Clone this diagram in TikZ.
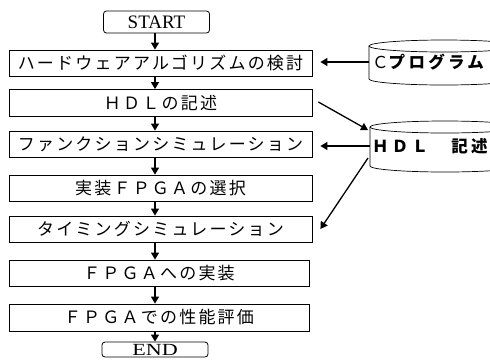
\documentclass[tikz,border=0pt]{standalone}
\usepackage{fontspec}
\setmainfont{Liberation Serif}
\newfontfamily\jp[LetterSpace=13]{Noto Sans CJK JP}
\newfontfamily\jpc[LetterSpace=20]{Noto Sans CJK JP}
\usetikzlibrary{arrows.meta,calc}
\begin{document}
\begin{tikzpicture}[x=1pt,y=-1pt,
  box/.style={draw, line width=0.8pt, minimum width=303pt, minimum height=26pt, inner sep=0pt,
    font=\jp\fontsize{17}{17}\selectfont},
  term/.style={draw, rounded corners=3pt, line width=0.8pt, inner sep=0pt, minimum width=106pt},
  arr/.style={line width=1.3pt, -{Triangle[length=7pt,width=8pt]}},
  cyl/.style={line width=0.7pt},
  cyltext/.style={anchor=west, inner sep=0pt, font=\jpc\bfseries\fontsize{16.5}{16.5}\selectfont}]
\useasboundingbox (0,0) rectangle (490,360);
\clip (0,0) rectangle (490,360);
% terminals and process boxes
\node[term, minimum height=22pt] (start) at (156.5,22) {\fontsize{19}{19}\selectfont START};
\node[box] (b1) at (160.5,63) {ハードウェアアルゴリズムの検討};
\node[box, minimum height=27pt] (b2) at (160.5,103) {ＨＤＬの記述};
\node[box] (b3) at (160.5,144) {ファンクションシミュレーション};
\node[box] (b4) at (160.5,188) {実装ＦＰＧＡの選択};
\node[box] (b5) at (160.5,229) {タイミングシミュレーション};
\node[box, minimum width=300pt] (b6) at (159,273) {ＦＰＧＡへの実装};
\node[box, minimum width=300pt, minimum height=27pt] (b7) at (159,317.5) {ＦＰＧＡでの性能評価};
\node[term, minimum height=15pt] (end) at (155,349.5) {\fontsize{17}{17}\selectfont\scalebox{1.3}[1]{END}};
% column of the vertical arrows
\coordinate (ax) at (155,0);
\draw[arr] (start.south -| ax) -- (b1.north -| ax);
\draw[arr] (b1.south -| ax) -- (b2.north -| ax);
\draw[arr] (b2.south -| ax) -- (b3.north -| ax);
\draw[arr] (b3.south -| ax) -- (b4.north -| ax);
\draw[arr] (b4.south -| ax) -- (b5.north -| ax);
\draw[arr] (b5.south -| ax) -- (b6.north -| ax);
\draw[arr] (b6.south -| ax) -- (b7.north -| ax);
\draw[arr] (b7.south -| ax) -- (end.north -| ax);
% cylinder 1: C program
\draw[cyl] (444,46) ellipse [x radius=75, y radius=6];
\draw[cyl] (369,46) -- (369,79) arc[start angle=180, end angle=0, x radius=75, y radius=6] -- (519,46);
\node[cyltext] (ctext) at (372,62) {{\mdseries Ｃ}プログラム};
% cylinder 2: HDL
\draw[cyl] (445,127) ellipse [x radius=75, y radius=6];
\draw[cyl] (370,127) -- (370,166) arc[start angle=180, end angle=0, x radius=75, y radius=6] -- (520,127);
\node[cyltext] (htext) at (372,146) {ＨＤＬ　記述};
\coordinate (c1) at (369,62);
\coordinate (c2top) at (368,130);
\coordinate (c2mid) at (370,146);
\coordinate (c2low) at (368,158);
\draw[arr, shorten >=8pt] (c1) -- (c1 -| b1.east);
\draw[arr] ($(b2.east)+(6,-1)$) -- (c2top);
\draw[arr, shorten >=8pt] (c2mid) -- (c2mid -| b3.east);
\draw[arr] (c2low) -- ($(b5.east)+(8,0)$);
\end{tikzpicture}
\end{document}
